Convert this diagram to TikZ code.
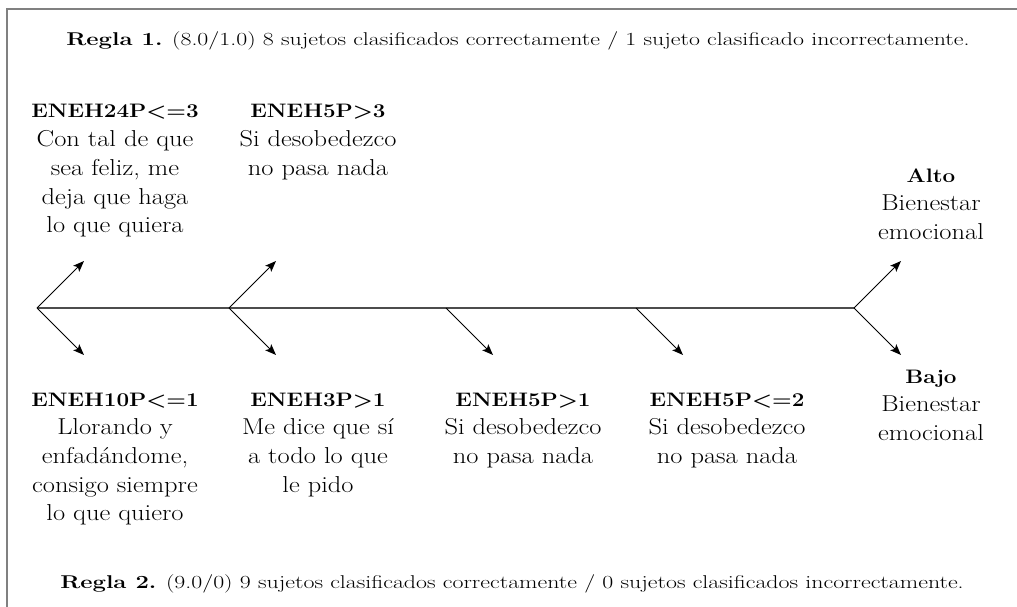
\documentclass[tikz,border=0pt]{standalone}
\usepackage{graphicx}
\usetikzlibrary{arrows.meta}
\newcommand\nodeblock[2]{\scalebox{1.15}[1]{\fontsize{23}{28.7}\selectfont\begin{tabular}[t]{@{}c@{}}\fontsize{19.5}{28.7}\selectfont\bfseries #1\\ #2\end{tabular}}}
\newcommand\reglatext[1]{\scalebox{1.29}[1]{\fontsize{18.5}{20}\selectfont #1}}
\begin{document}
\begin{tikzpicture}[x=1pt,y=-1pt,
  lbl/.style={inner sep=0pt, anchor=base},
  arr/.style={line width=0.9pt, draw=black, -{Stealth[length=11pt,width=8.5pt,inset=2.5pt]}},
  axisline/.style={line width=1.4pt, draw=black!70},
  framestyle/.style={line width=1.4pt, draw=black!50}]
\useasboundingbox (0,0) rectangle (1017,607);
% frame
\coordinate (fb) at (7,607);
\coordinate (fc) at (7,9);
\coordinate (fr) at (1017,9);
\draw[framestyle] (fb) -- (fc) -- (fr);
% rule texts
\node[lbl] (r1) at (518,46) {\reglatext{\textbf{Regla 1.} (8.0/1.0) 8 sujetos clasificados correctamente / 1 sujeto clasificado incorrectamente.}};
\node[lbl] (r2) at (512,588) {\reglatext{\textbf{Regla 2.} (9.0/0) 9 sujetos clasificados correctamente / 0 sujetos clasificados incorrectamente.}};
% fork points
\coordinate (f1) at (37,308);
\coordinate (f2) at (229,308);
\coordinate (f3) at (446,308);
\coordinate (f4) at (636,308);
\coordinate (f5) at (854,308);
\coordinate (u1) at (84,261);
\coordinate (d1) at (84,355);
\coordinate (u2) at (276,261);
\coordinate (d2) at (276,355);
\coordinate (d3) at (493,355);
\coordinate (d4) at (683,355);
\coordinate (u5) at (901,261);
\coordinate (d5) at (901,355);
\draw[axisline] (f1) -- (f5);
\draw[arr] (f1) -- (u1);
\draw[arr] (f1) -- (d1);
\draw[arr] (f2) -- (u2);
\draw[arr] (f2) -- (d2);
\draw[arr] (f3) -- (d3);
\draw[arr] (f4) -- (d4);
\draw[arr] (f5) -- (u5);
\draw[arr] (f5) -- (d5);
% labels
\node[lbl] (t1) at (115,118) {\nodeblock{ENEH24P<=3}{Con tal de que\\ sea feliz, me\\ deja que haga\\ lo que quiera}};
\node[lbl] (t2) at (318,118) {\nodeblock{ENEH5P>3}{Si desobedezco\\ no pasa nada}};
\node[lbl] (alto) at (931,182) {\nodeblock{Alto}{Bienestar\\ emocional}};
\node[lbl] (b1) at (115,406) {\nodeblock{ENEH10P<=1}{Llorando y\\ enfadándome,\\ consigo siempre\\ lo que quiero}};
\node[lbl] (b2) at (318,406) {\nodeblock{ENEH3P>1}{Me dice que sí\\ a todo lo que\\ le pido}};
\node[lbl] (b3) at (523,406) {\nodeblock{ENEH5P>1}{Si desobedezco\\ no pasa nada}};
\node[lbl] (b4) at (727,406) {\nodeblock{ENEH5P<=2}{Si desobedezco\\ no pasa nada}};
\node[lbl] (bajo) at (931,383) {\nodeblock{Bajo}{Bienestar\\ emocional}};
\end{tikzpicture}
\end{document}
